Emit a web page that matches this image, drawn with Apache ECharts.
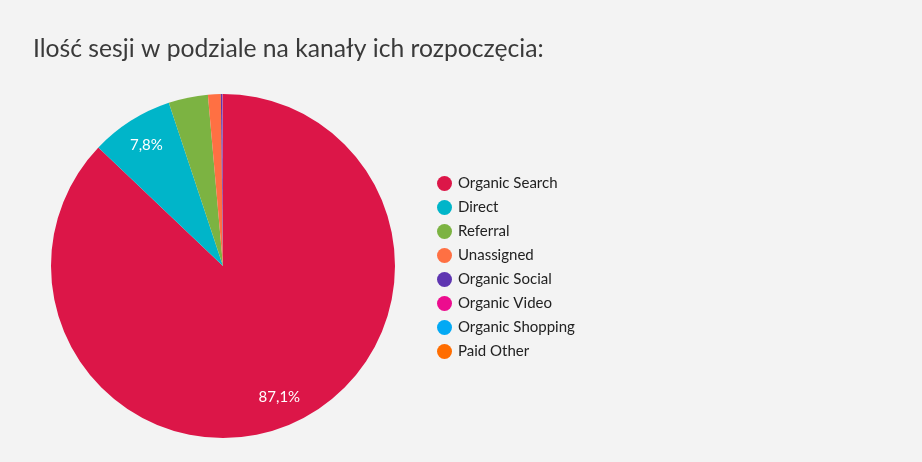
<!DOCTYPE html>
<html>
<head>
<meta charset="utf-8">
<script src="https://cdn.jsdelivr.net/npm/echarts@6/dist/echarts.min.js"></script>
<style>
  html, body { margin: 0; padding: 0; background: #f3f3f3; }
  #chart { width: 922px; height: 462px; }
</style>
</head>
<body>
<div id="chart"></div>
<script>
	// kanały i udział sesji (%)
	var channels = ['Organic Search', 'Direct', 'Referral', 'Unassigned', 'Organic Social', 'Organic Video', 'Organic Shopping', 'Paid Other'];
	var sessions = [87.1, 7.8, 3.7, 1.2, 0.15, 0.03, 0.01, 0.01];
	var colors = ['#dc1648', '#00b5c9', '#7cb342', '#ff7043', '#5e35b1', '#ec0c8e', '#03a9f4', '#ff6d00'];

	var data = channels.map(function(name, i) {
		return { name: name, value: sessions[i] };
	});

	var myChart = echarts.init(document.getElementById('chart'));

	myChart.setOption({
		backgroundColor: '#f3f3f3',
		color: colors,
		animation: false,
		title: {
			text: 'Ilość sesji w podziale na kanały ich rozpoczęcia:',
			left: 28,
			top: 32,
			textStyle: {
				fontFamily: 'Lato',
				fontSize: 24.7,
				fontWeight: 'normal',
				color: '#3a3a3a'
			}
		},
		legend: {
			orient: 'vertical',
			left: 432,
			top: 171,
			icon: 'circle',
			itemWidth: 15,
			itemHeight: 15,
			itemGap: 9,
			textStyle: {
				fontFamily: 'Lato',
				fontSize: 15,
				color: '#222',
				padding: [0, 0, 0, 1]
			},
			data: channels
		},
		series: [{
			type: 'pie',
			center: [223, 266],
			radius: [0, 172],
			startAngle: 90,
			clockwise: true,
			label: { show: false },
			labelLine: { show: false },
			emphasis: { scale: false },
			itemStyle: { borderWidth: 0 },
			data: data
		}, {
			// tylko etykiety, przesunięte bliżej krawędzi
			type: 'pie',
			center: [223, 266],
			radius: [108, 172],
			startAngle: 90,
			clockwise: true,
			silent: true,
			itemStyle: { color: 'rgba(0,0,0,0)' },
			label: {
				show: true,
				position: 'inside',
				fontFamily: 'Lato',
				fontSize: 15,
				color: '#fff',
				formatter: function(p) {
					if (p.percent < 5) return '';
					return p.percent.toFixed(1).replace('.', ',') + '%';
				}
			},
			labelLine: { show: false },
			data: data
		}]
	});
</script>
</body>
</html>
